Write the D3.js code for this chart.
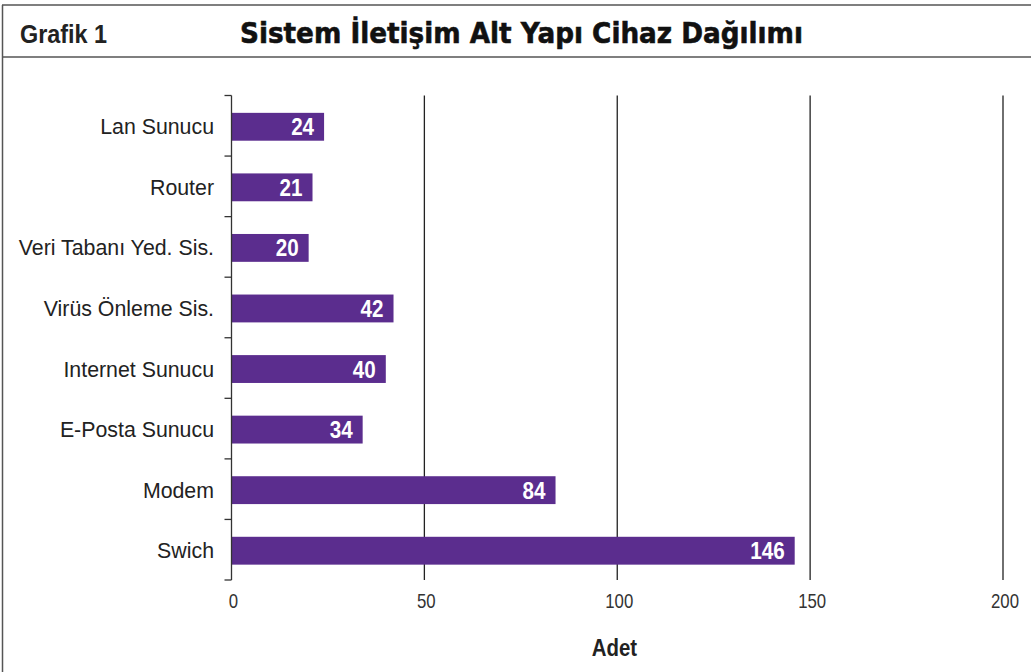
<!DOCTYPE html>
<html>
<head>
<meta charset="utf-8">
<script src="https://cdn.jsdelivr.net/npm/d3@7"></script>
<style>
  body { margin: 0; background: #fff; }
  text { font-family: "Liberation Sans", Arial, sans-serif; }
</style>
</head>
<body>
<div id="chart"></div>
<script>
var categories = ["Lan Sunucu", "Router", "Veri Tabanı Yed. Sis.", "Virüs Önleme Sis.",
    "Internet Sunucu", "E-Posta Sunucu", "Modem", "Swich"];
var values = [24, 21, 20, 42, 40, 34, 84, 146];
var xTicks = [0, 50, 100, 150, 200];
var chartNumber = "Grafik 1";
var chartTitle = "Sistem İletişim Alt Yapı Cihaz Dağılımı";
var xLabel = "Adet";

var width = 1033;
var height = 672;
var margin = { left: 231.5, right: 30, top: 95.5, bottom: 92 };
var barColor = "#5b2d8e";

var data = categories.map(function (c, i) {
    return { name: c, value: values[i] };
});

// no condensed font installed, so squeeze text horizontally
function squeeze(px, py, sx) {
    return "translate(" + px + "," + py + ") scale(" + sx + ",1)";
}

var svg = d3.select("#chart").append("svg")
    .attr("width", width)
    .attr("height", height);

// frame
svg.append("line").attr("x1", 2).attr("x2", 1031).attr("y1", 5).attr("y2", 5)
    .attr("stroke", "#555").attr("stroke-width", 1.5);
svg.append("line").attr("x1", 2).attr("x2", 1031).attr("y1", 57).attr("y2", 57)
    .attr("stroke", "#555").attr("stroke-width", 1.5);
svg.append("line").attr("x1", 2.5).attr("x2", 2.5).attr("y1", 5).attr("y2", height)
    .attr("stroke", "#555").attr("stroke-width", 1.5);

// header
svg.append("text")
    .attr("transform", squeeze(20, 43, 0.9))
    .style("font-weight", "bold")
    .style("font-size", "26px")
    .attr("fill", "#222")
    .text(chartNumber);

svg.append("text")
    .attr("x", 240).attr("y", 43)
    .attr("textLength", 563)
    .attr("lengthAdjust", "spacingAndGlyphs")
    .style("font-family", "'DejaVu Sans', sans-serif")
    .style("font-weight", "900")
    .style("font-size", "29px")
    .attr("fill", "#111")
    .attr("stroke", "#111")
    .attr("stroke-width", 0.6)
    .text(chartTitle);

var x = d3.scaleLinear()
    .domain([0, 200])
    .range([margin.left, 1003]);

var y = d3.scaleBand()
    .domain(categories)
    .range([margin.top, height - margin.bottom])
    .paddingInner(0.54)
    .paddingOuter(0.27);

var bandY = d3.scaleBand()
    .domain(categories)
    .range([margin.top, height - margin.bottom]);

// grid lines
svg.append("g")
    .selectAll("line")
    .data(xTicks.slice(1))
    .enter()
    .append("line")
    .attr("x1", function (d) { return x(d); })
    .attr("x2", function (d) { return x(d); })
    .attr("y1", margin.top)
    .attr("y2", height - margin.bottom)
    .attr("stroke", "#222")
    .attr("stroke-width", 1.3);

// bars
svg.selectAll(".bar")
    .data(data)
    .enter()
    .append("rect")
    .attr("class", "bar")
    .attr("x", x(0))
    .attr("y", function (d) { return y(d.name) + 1; })
    .attr("width", function (d) { return x(d.value) - x(0); })
    .attr("height", y.bandwidth())
    .attr("fill", barColor);

// value labels
svg.selectAll(".val")
    .data(data)
    .enter()
    .append("text")
    .attr("class", "val")
    .attr("transform", function (d) {
        return squeeze(x(d.value) - 10, y(d.name) + 1 + y.bandwidth() / 2 + 8.5, 0.86);
    })
    .attr("text-anchor", "end")
    .style("font-weight", "bold")
    .style("font-size", "24px")
    .attr("fill", "#fff")
    .text(function (d) { return d.value; });

// y axis with ticks on band edges
var edges = categories.map(function (c) { return bandY(c); });
edges.push(height - margin.bottom);

svg.append("line")
    .attr("x1", x(0)).attr("x2", x(0))
    .attr("y1", margin.top).attr("y2", height - margin.bottom)
    .attr("stroke", "#333").attr("stroke-width", 1.3);

svg.append("g")
    .selectAll("line")
    .data(edges)
    .enter()
    .append("line")
    .attr("x1", x(0) - 7).attr("x2", x(0))
    .attr("y1", function (d) { return d; })
    .attr("y2", function (d) { return d; })
    .attr("stroke", "#333").attr("stroke-width", 1.3);

svg.selectAll(".cat")
    .data(categories)
    .enter()
    .append("text")
    .attr("class", "cat")
    .attr("transform", function (d) {
        return squeeze(214, y(d) + 1 + y.bandwidth() / 2 + 7.5, 0.97);
    })
    .attr("text-anchor", "end")
    .style("font-size", "22px")
    .attr("fill", "#222")
    .text(function (d) { return d; });

// x tick labels
svg.selectAll(".xt")
    .data(xTicks)
    .enter()
    .append("text")
    .attr("class", "xt")
    .attr("transform", function (d) { return squeeze(x(d) + 2, 608, 0.84); })
    .attr("text-anchor", "middle")
    .style("font-size", "20px")
    .attr("fill", "#333")
    .text(function (d) { return d; });

svg.append("text")
    .attr("transform", squeeze(614.5, 656, 0.85))
    .attr("text-anchor", "middle")
    .style("font-weight", "bold")
    .style("font-size", "24px")
    .attr("fill", "#222")
    .text(xLabel);
</script>
</body>
</html>
